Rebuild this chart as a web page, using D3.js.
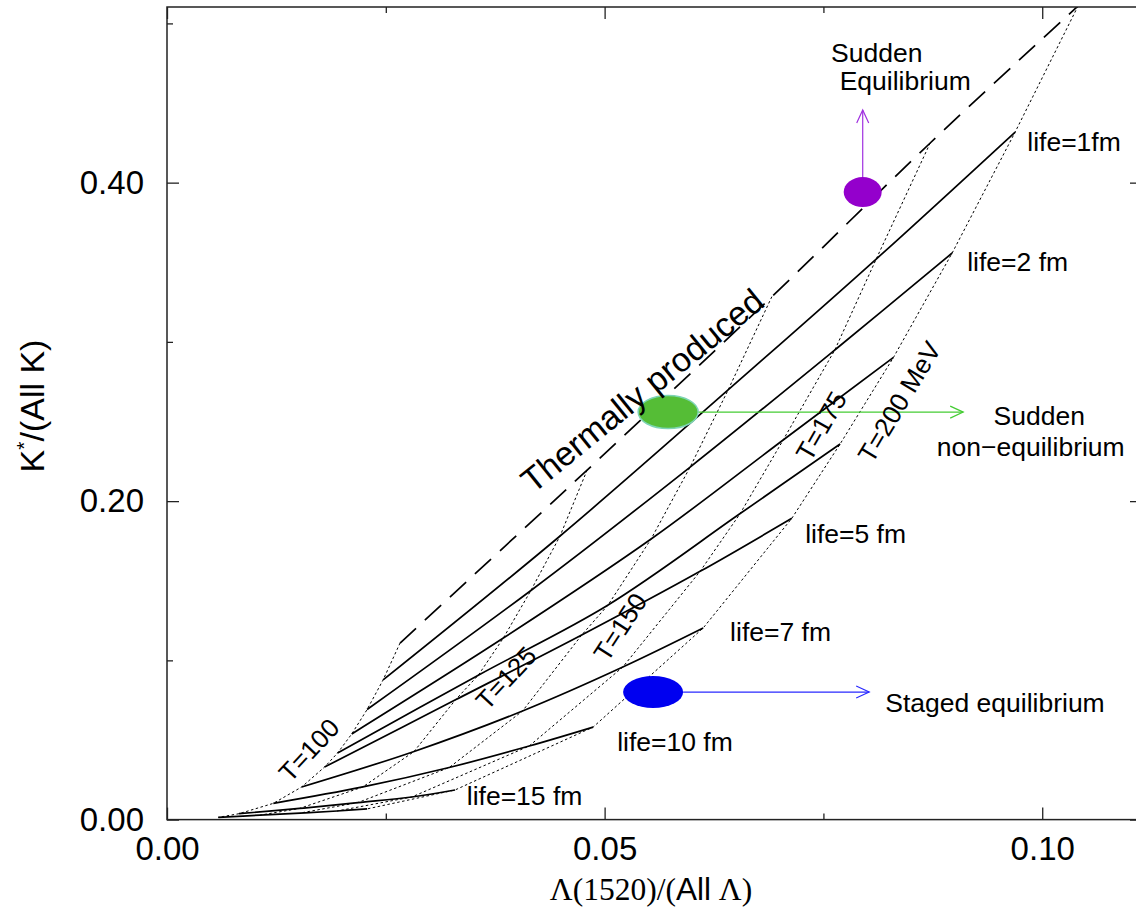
<!DOCTYPE html>
<html>
<head>
<meta charset="utf-8">
<script src="https://cdn.jsdelivr.net/npm/d3@7"></script>
<style>
  body { margin: 0; background: #fff; }
  text { font-family: "Liberation Sans", Arial, sans-serif; fill: #000; }
</style>
</head>
<body>
<script>
// lifetimes (fm), 0 = thermally produced
var lifetimes = [0, 1, 2, 3, 4, 5, 7, 10, 15, 20];
var temps = [100, 125, 150, 175, 200];

// Lambda(1520)/(all Lambda) per lifetime (rows) and temperature (cols)
var lambdaRatio = [
  [0.02663, 0.0480, 0.06911, 0.0872, 0.1041],
  [0.02469, 0.04491, 0.06411, 0.08103, 0.09691],
  [0.02286, 0.04158, 0.05977, 0.07630, 0.08971],
  [0.02111, 0.03843, 0.05531, 0.07040, 0.08301],
  [0.01949, 0.03557, 0.05040, 0.06549, 0.07691],
  [0.0180, 0.03296, 0.04738, 0.06091, 0.07139],
  [0.01539, 0.02823, 0.04062, 0.05208, 0.06126],
  [0.01215, 0.02238, 0.03224, 0.04138, 0.04869],
  [0.00823, 0.01514, 0.02181, 0.02798, 0.03291],
  [0.00586, 0.01063, 0.0152, 0.01943, 0.02286]
];
// K*/(all K)
var kstarRatio = [
  [0.1109, 0.2195, 0.3284, 0.4249, 0.511],
  [0.0877, 0.1781, 0.2698, 0.3520, 0.4318],
  [0.0691, 0.1439, 0.2214, 0.2949, 0.3558],
  [0.0538, 0.1140, 0.1762, 0.2384, 0.2903],
  [0.0418, 0.0907, 0.1348, 0.1922, 0.2359],
  [0.0330, 0.0752, 0.1159, 0.1559, 0.1892],
  [0.0205, 0.0428, 0.0682, 0.0958, 0.1203],
  [0.0102, 0.0205, 0.0327, 0.0462, 0.0581],
  [0.0037, 0.0070, 0.0107, 0.0142, 0.0186],
  [0.0014, 0.0028, 0.0041, 0.0054, 0.0067]
];

var xTicks = [0, 0.05, 0.10];
var xMinor = [0.025, 0.075];
var yTicks = [0, 0.2, 0.4];
var yMinor = [0.1, 0.3, 0.5];

var lifeLabelText = ["life=1fm", "life=2 fm", "life=5 fm", "life=7 fm", "life=10 fm", "life=15 fm"];
var lifeLabelX = [0.09829, 0.09143, 0.07291, 0.06434, 0.05143, 0.03425];
var lifeLabelY = [0.4198, 0.3445, 0.1739, 0.1123, 0.0431, 0.0092];

var tempLabelText = ["T=100", "T=125", "T=150", "T=175", "T=200 MeV"];
var tempLabelX = [0.01623, 0.03874, 0.05177, 0.07474, 0.08366];
var tempLabelY = [0.0437, 0.0889, 0.1209, 0.2472, 0.2623];

// scenario markers and where their arrows point
var scenarioX = [0.07949, 0.05726, 0.05554];
var scenarioY = [0.3941, 0.2559, 0.0801];
var arrowToX = [0.07949, 0.09097, 0.08023];
var arrowToY = [0.4456, 0.2559, 0.0801];

var width = 1136, height = 913;

var x = d3.scaleLinear().domain([0, 0.1114]).range([167, 1142]);
var y = d3.scaleLinear().domain([0, 0.5103]).range([819.6, 7]);

var svg = d3.select("body").append("svg")
    .attr("width", width)
    .attr("height", height);

svg.append("clipPath").attr("id", "plotclip")
  .append("rect")
    .attr("x", x(0)).attr("y", y(0.5103))
    .attr("width", x(0.1114) - x(0)).attr("height", y(0) - y(0.5103));

var plot = svg.append("g").attr("clip-path", "url(#plotclip)");

// isotherms (dotted), one per temperature across lifetimes
var isoLine = d3.line()
    .x(function(d) { return x(d[0]); })
    .y(function(d) { return y(d[1]); });

temps.forEach(function(t, j) {
  var pts = lifetimes.map(function(l, i) { return [lambdaRatio[i][j], kstarRatio[i][j]]; });
  plot.append("path")
      .attr("d", isoLine(pts))
      .style("fill", "none")
      .style("stroke", "#000")
      .style("stroke-width", "1px")
      .style("stroke-dasharray", "2.5,2.5");
});

// lifetime curves
var lifeLine = d3.line()
    .curve(d3.curveCatmullRom.alpha(0.5))
    .x(function(d) { return x(d[0]); })
    .y(function(d) { return y(d[1]); });

lifetimes.forEach(function(l, i) {
  var pts = temps.map(function(t, j) { return [lambdaRatio[i][j], kstarRatio[i][j]]; });
  plot.append("path")
      .attr("d", lifeLine(pts))
      .style("fill", "none")
      .style("stroke", "#000")
      .style("stroke-width", "1.7px")
      .style("stroke-dasharray", l === 0 ? "22,12" : null);
});

// axes
function styleAxis(g) {
  g.select(".domain").remove();
  g.selectAll(".tick line").style("stroke", "#222").style("stroke-width", "1.3px");
  g.selectAll("text").style("font-size", "33px").style("font-family", "'Liberation Sans', Arial, sans-serif");
}

var fmt = d3.format(".2f");

svg.append("g").attr("transform", "translate(0," + y(0) + ")")
    .call(d3.axisBottom(x).tickValues(xTicks).tickFormat(fmt).tickSizeInner(-12).tickSizeOuter(0).tickPadding(17))
    .call(styleAxis);
svg.append("g").attr("transform", "translate(0," + y(0) + ")")
    .call(d3.axisBottom(x).tickValues(xMinor).tickFormat("").tickSizeInner(-6).tickSizeOuter(0))
    .call(styleAxis);
svg.append("g").attr("transform", "translate(0," + y(0.5103) + ")")
    .call(d3.axisTop(x).tickValues(xTicks).tickFormat("").tickSizeInner(-12).tickSizeOuter(0))
    .call(styleAxis);
svg.append("g").attr("transform", "translate(0," + y(0.5103) + ")")
    .call(d3.axisTop(x).tickValues(xMinor).tickFormat("").tickSizeInner(-6).tickSizeOuter(0))
    .call(styleAxis);

svg.append("g").attr("transform", "translate(" + x(0) + ",0)")
    .call(d3.axisLeft(y).tickValues(yTicks).tickFormat(fmt).tickSizeInner(-12).tickSizeOuter(0).tickPadding(23))
    .call(styleAxis);
svg.append("g").attr("transform", "translate(" + x(0) + ",0)")
    .call(d3.axisLeft(y).tickValues(yMinor).tickFormat("").tickSizeInner(-6).tickSizeOuter(0))
    .call(styleAxis);
svg.append("g").attr("transform", "translate(" + x(0.1114) + ",0)")
    .call(d3.axisRight(y).tickValues(yTicks).tickFormat("").tickSizeInner(-12).tickSizeOuter(0))
    .call(styleAxis);
svg.append("g").attr("transform", "translate(" + x(0.1114) + ",0)")
    .call(d3.axisRight(y).tickValues(yMinor).tickFormat("").tickSizeInner(-6).tickSizeOuter(0))
    .call(styleAxis);

// frame
svg.append("rect")
    .attr("x", x(0)).attr("y", y(0.5103))
    .attr("width", x(0.1114) - x(0)).attr("height", y(0) - y(0.5103))
    .style("fill", "none").style("stroke", "#222").style("stroke-width", "1.5px");

// axis titles
var xt = svg.append("text")
    .attr("x", 651).attr("y", 900)
    .attr("text-anchor", "middle")
    .style("font-size", "31.5px");
xt.append("tspan").style("font-family", "'Liberation Serif', 'Times New Roman', serif").text("\u039B(1520)/(");
xt.append("tspan").text("All");
xt.append("tspan").style("font-family", "'Liberation Serif', 'Times New Roman', serif").text(" \u039B)");

var yt = svg.append("text")
    .attr("transform", "translate(44,406) rotate(-90)")
    .attr("text-anchor", "middle")
    .style("font-size", "34px");
yt.append("tspan").text("K");
yt.append("tspan").attr("dy", "-13").style("font-size", "21px").text("*");
yt.append("tspan").attr("dy", "13").text("/(All K)");

// scenario markers with arrows
var markerFill = ["#9400cc", "#55bd36", "#0000f0"];
var markerStroke = ["none", "#7dd4b4", "none"];
var arrowColor = ["#a030e0", "#44cc33", "#2828ff"];
var rx = [19, 30, 30], ry = [15, 16.5, 16];

scenarioX.forEach(function(sx, i) {
  var cx = x(sx), cy = y(scenarioY[i]);
  var tx = x(arrowToX[i]), ty = y(arrowToY[i]);
  var horiz = Math.abs(ty - cy) < 2;
  var x0 = horiz ? cx + rx[i] : cx, y0 = horiz ? cy : cy - ry[i];
  svg.append("line")
      .attr("x1", x0).attr("y1", y0).attr("x2", tx).attr("y2", ty)
      .style("stroke", arrowColor[i]).style("stroke-width", "1.2px");
  var head = horiz
    ? [[tx - 13, ty - 6], [tx, ty], [tx - 13, ty + 6]]
    : [[tx - 6, ty + 13], [tx, ty], [tx + 6, ty + 13]];
  svg.append("path")
      .attr("d", d3.line()(head))
      .style("fill", "none").style("stroke", arrowColor[i]).style("stroke-width", "1.2px");
  svg.append("ellipse")
      .attr("cx", cx).attr("cy", cy).attr("rx", rx[i]).attr("ry", ry[i])
      .style("fill", markerFill[i])
      .style("stroke", markerStroke[i]).style("stroke-width", "1.5px");
});

// labels on the curves
svg.selectAll(".lifelabel")
  .data(lifeLabelText)
  .enter().append("text")
    .attr("class", "lifelabel")
    .attr("x", function(d, i) { return x(lifeLabelX[i]); })
    .attr("y", function(d, i) { return y(lifeLabelY[i]); })
    .style("font-size", "26.5px")
    .text(function(d) { return d; });

var tempAngles = [-47, -47, -57, -60, -59];
svg.selectAll(".templabel")
  .data(tempLabelText)
  .enter().append("text")
    .attr("class", "templabel")
    .attr("transform", function(d, i) {
      return "translate(" + x(tempLabelX[i]) + "," + y(tempLabelY[i]) + ") rotate(" + tempAngles[i] + ")";
    })
    .attr("text-anchor", "middle")
    .attr("dy", "0.35em")
    .style("font-size", "26px")
    .text(function(d) { return d; });

// drawn after the markers so the descender sits over the green blob
svg.append("text")
    .attr("transform", "translate(" + x(0.0543) + "," + y(0.2695) + ") rotate(-39)")
    .attr("text-anchor", "middle")
    .attr("dy", "0.35em")
    .style("font-size", "34px")
    .text("Thermally produced");

// scenario names
var sceneText = ["Sudden", "Equilibrium", "Sudden", "non\u2212equilibrium", "Staged equilibrium"];
var sceneX = [0.08109, 0.08434, 0.09966, 0.09869, 0.08206];
var sceneY = [0.4757, 0.4581, 0.2479, 0.2283, 0.0678];
var sceneAnchor = ["middle", "middle", "middle", "middle", "start"];
svg.selectAll(".scene")
  .data(sceneText)
  .enter().append("text")
    .attr("class", "scene")
    .attr("x", function(d, i) { return x(sceneX[i]); })
    .attr("y", function(d, i) { return y(sceneY[i]); })
    .attr("text-anchor", function(d, i) { return sceneAnchor[i]; })
    .style("font-size", "26.5px")
    .text(function(d) { return d; });
</script>
</body>
</html>
